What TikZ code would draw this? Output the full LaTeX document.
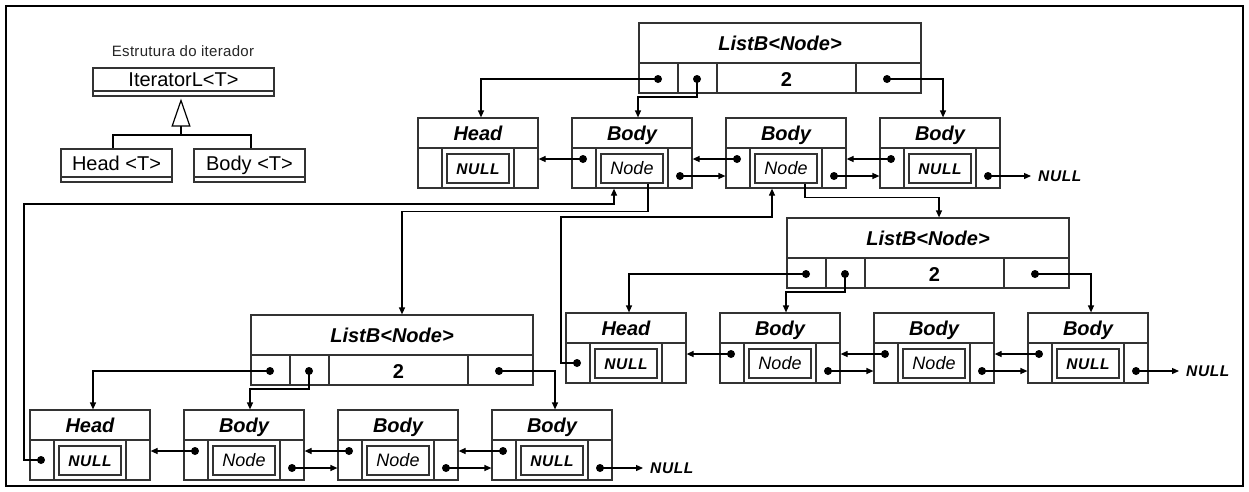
\documentclass[tikz,border=0pt]{standalone}
\usepackage{fontspec}
\setmainfont{Liberation Sans}
\usetikzlibrary{arrows.meta,calc}
\tikzset{
  box/.style={draw=black!80, line width=1.2pt},
  elembox/.style={box, inner sep=0pt, minimum width=120pt, minimum height=70pt},
  listbox/.style={box, inner sep=0pt, minimum width=282pt, minimum height=70pt},
  inbox/.style={draw=black!80, line width=1.6pt, inner sep=0pt, minimum width=62pt, minimum height=29pt, text height=12pt, text depth=0pt},
  ttl/.style={inner sep=0pt, text height=14pt, text depth=0pt, font=\fontsize{20}{24}\selectfont\bfseries\itshape},
  wire/.style={line width=1.2pt},
  ptr/.style={wire, -{Triangle[length=7pt,width=6pt]}},
  uml/.style={draw=black!80, line width=1.2pt, inner sep=0pt, text height=14pt, text depth=0pt, font=\fontsize{20}{24}\selectfont},
  umlc/.style={draw=black!80, line width=1.2pt, inner sep=0pt, minimum height=5pt},
  nulltxt/.style={inner sep=0pt, text height=11pt, text depth=0pt, font=\fontsize{15.5}{18}\selectfont\bfseries\itshape\addfontfeature{LetterSpace=4}},
}
\newcommand\txnd{\fontsize{18}{21}\selectfont\itshape Node}
\newcommand\txnl{\fontsize{15.5}{18}\selectfont\bfseries\itshape\addfontfeature{LetterSpace=4}NULL}
\newcommand\mkelem[5]{%
  \node[elembox] (#1) at ({#2+60},{#3+35}) {};
  \draw[box] ({#2},{#3+30}) -- ({#2+120},{#3+30});
  \draw[box] ({#2+24},{#3+30}) -- ({#2+24},{#3+70});
  \draw[box] ({#2+96},{#3+30}) -- ({#2+96},{#3+70});
  \node[ttl] (#1-t) at ({#2+60},{#3+15}) {#4};
  \node[inbox] (#1-in) at ({#2+60},{#3+50.5}) {#5};
  \coordinate (#1-l) at ({#2+11},{#3+41});
  \coordinate (#1-r) at ({#2+108},{#3+58});
  \coordinate (#1-c) at ({#2+11},{#3+50});
}
\newcommand\mklist[3]{%
  \node[listbox] (#1) at ({#2+141},{#3+35}) {};
  \draw[box] ({#2},{#3+40}) -- ({#2+282},{#3+40});
  \draw[box] ({#2+39},{#3+40}) -- ({#2+39},{#3+70});
  \draw[box] ({#2+78},{#3+40}) -- ({#2+78},{#3+70});
  \draw[box] ({#2+217},{#3+40}) -- ({#2+217},{#3+70});
  \node[ttl] (#1-t) at ({#2+141},{#3+20}) {ListB<Node>};
  \node[ttl, font=\fontsize{20}{24}\selectfont\bfseries] (#1-n) at ({#2+147.5},{#3+56}) {2};
  \coordinate (#1-d1) at ({#2+19},{#3+56});
  \coordinate (#1-d2) at ({#2+58},{#3+56});
  \coordinate (#1-d3) at ({#2+248},{#3+56});
}
\begin{document}
\begin{tikzpicture}[x=1pt,y=-1pt]
\useasboundingbox (0,0) rectangle (1249,491);
\fill[white] (0,0) rectangle (1249,491);
\draw[line width=2.6pt] (6,6) rectangle (1243,486);

% legend
\node[inner sep=0pt, text=black!85, font=\fontsize{15}{18}\selectfont\addfontfeature{LetterSpace=2}] (est) at (183,51) {Estrutura do iterador};
\node[uml, minimum width=181pt, minimum height=23pt] (it) at (183.5,79.5) {IteratorL<T>};
\node[umlc, minimum width=181pt] (itc) at (183.5,93.5) {};
\node[uml, minimum width=111pt, minimum height=28pt] (ht) at (116.5,163) {Head <T>};
\node[umlc, minimum width=111pt] (htc) at (116.5,179.5) {};
\node[uml, minimum width=111pt, minimum height=28pt] (bt) at (249.5,163) {Body <T>};
\node[umlc, minimum width=111pt] (btc) at (249.5,179.5) {};
\coordinate (jn) at (181,135);
\draw[wire] ([xshift=-3.5pt]ht.north) |- (jn) -| ([xshift=1.5pt]bt.north);
\draw[wire, -{Triangle[open,length=28pt,width=19pt]}, shorten >=2pt] (jn) -- (jn |- itc.south);

% lists
\mklist{L1}{639}{23}
\mklist{L2}{787}{218}
\mklist{L3}{251}{315}

% elements
\mkelem{H1}{418}{118}{Head}{\txnl}
\mkelem{B11}{572}{118}{Body}{\txnd}
\mkelem{B12}{726}{118}{Body}{\txnd}
\mkelem{B13}{880}{118}{Body}{\txnl}
\mkelem{H2}{566}{313}{Head}{\txnl}
\mkelem{B21}{720}{313}{Body}{\txnd}
\mkelem{B22}{874}{313}{Body}{\txnd}
\mkelem{B23}{1028}{313}{Body}{\txnl}
\mkelem{H3}{30}{410}{Head}{\txnl}
\mkelem{B31}{184}{410}{Body}{\txnd}
\mkelem{B32}{338}{410}{Body}{\txnd}
\mkelem{B33}{492}{410}{Body}{\txnl}

% row links
\foreach \r in {1,2,3}{
  \draw[ptr] (B\r1-l) -- (B\r1-l -| H\r.east);
  \draw[ptr] (B\r2-l) -- (B\r2-l -| B\r1.east);
  \draw[ptr] (B\r3-l) -- (B\r3-l -| B\r2.east);
  \draw[ptr] (B\r1-r) -- (B\r1-r -| B\r2.west);
  \draw[ptr] (B\r2-r) -- (B\r2-r -| B\r3.west);
  \node[nulltxt, anchor=west] (N\r) at ($(B\r3-r)+(50,0)$) {NULL};
  \draw[ptr] (B\r3-r) -- ([xshift=-7pt]N\r.west);
}

% list pointers
\draw[ptr] (L1-d1) -| ([xshift=3pt]H1.north);
\draw[ptr] (L1-d2) -- ++(0,18) -| ([xshift=6pt]B11.north);
\draw[ptr] (L1-d3) -| ([xshift=3pt]B13.north);
\draw[ptr] (L2-d1) -| ([xshift=3pt]H2.north);
\draw[ptr] (L2-d2) -- ++(0,18) -| ([xshift=6pt]B21.north);
\draw[ptr] (L2-d3) -| ([xshift=3pt]B23.north);
\draw[ptr] (L3-d1) -| ([xshift=3pt]H3.north);
\draw[ptr] (L3-d2) -- ++(0,18) -| ([xshift=6pt]B31.north);
\draw[ptr] (L3-d3) -| ([xshift=3pt]B33.north);

% cross links
\draw[ptr] (H3-c) -| ++(-17,-256) -| ([xshift=-18pt]B11.south);
\draw[ptr] ([xshift=16pt]B11-in.south) -- ++(0,28) -| ([xshift=10pt]L3.north);
\draw[ptr] (H2-c) -| ++(-16,-146) -| ([xshift=-14pt]B12.south);
\draw[ptr] ([xshift=19pt]B12-in.south) -- ++(0,14) -| ([xshift=11pt]L2.north);

% dots
\foreach \d in {L1-d1,L1-d2,L1-d3,L2-d1,L2-d2,L2-d3,L3-d1,L3-d2,L3-d3,
  B11-l,B11-r,B12-l,B12-r,B13-l,B13-r,
  B21-l,B21-r,B22-l,B22-r,B23-l,B23-r,
  B31-l,B31-r,B32-l,B32-r,B33-l,B33-r,H2-c,H3-c}
  \fill (\d) circle[radius=4];
\end{tikzpicture}
\end{document}
